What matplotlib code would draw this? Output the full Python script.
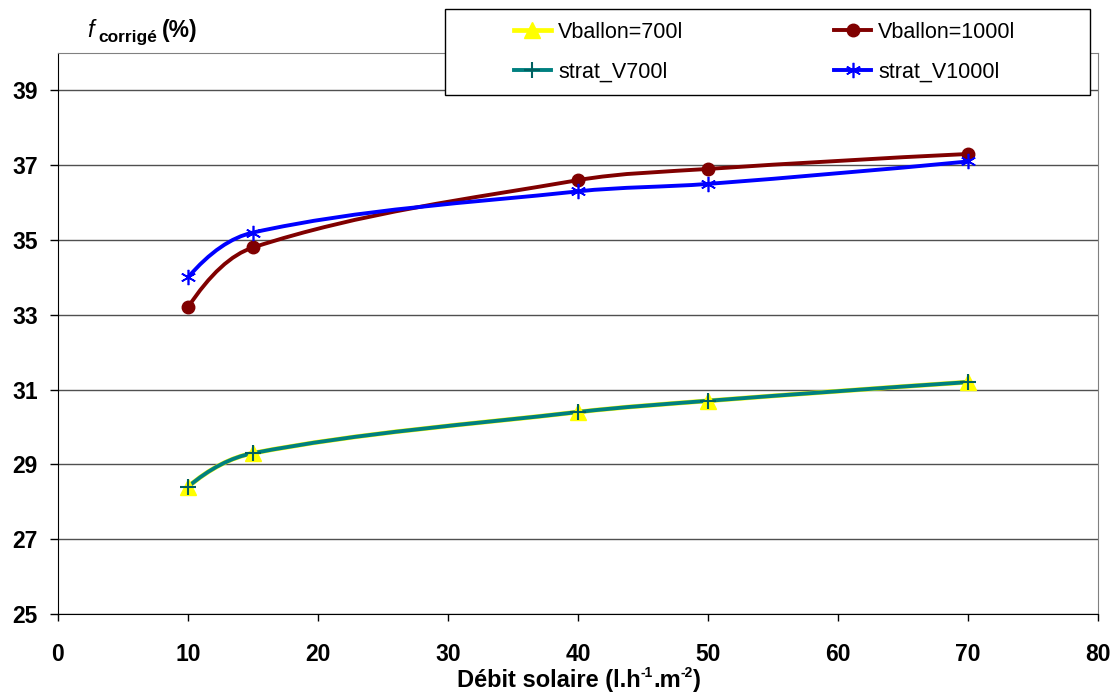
import numpy as np
import matplotlib
matplotlib.use('Agg')
import matplotlib.pyplot as plt
from matplotlib.path import Path
from matplotlib.patches import PathPatch, Rectangle
from matplotlib.lines import Line2D

plt.rcParams['font.family'] = ['Liberation Sans', 'DejaVu Sans']

# data
debit = [10, 15, 40, 50, 70]
v700 = [28.4, 29.3, 30.4, 30.7, 31.2]
v1000 = [33.2, 34.8, 36.6, 36.9, 37.3]
strat_v700 = [28.4, 29.3, 30.4, 30.7, 31.2]
strat_v1000 = [34.0, 35.2, 36.3, 36.5, 37.1]
labels = ['Vballon=700l', 'Vballon=1000l', 'strat_V700l', 'strat_V1000l']
xticks = list(range(0, 81, 10))
yticks = list(range(25, 40, 2))


# smoothed line like excel: cubic bezier through the points
def smooth_path(x, y):
    x = np.asarray(x, float)
    y = np.asarray(y, float)
    n = len(x)
    m = np.zeros(n)
    for i in range(1, n - 1):
        m[i] = (y[i + 1] - y[i - 1]) / (x[i + 1] - x[i - 1])
    m[0] = 2 * (y[1] - y[0]) / (x[1] - x[0]) - m[1]
    m[-1] = 2 * (y[-1] - y[-2]) / (x[-1] - x[-2]) - m[-2]
    verts = [(x[0], y[0])]
    codes = [Path.MOVETO]
    for i in range(n - 1):
        h = (x[i + 1] - x[i]) / 3
        verts += [(x[i] + h, y[i] + m[i] * h),
                  (x[i + 1] - h, y[i + 1] - m[i + 1] * h),
                  (x[i + 1], y[i + 1])]
        codes += [Path.CURVE4] * 3
    return Path(verts, codes)


W, H = 1114, 693
fig = plt.figure(figsize=(W / 100, H / 100), dpi=100)
ax = fig.add_axes([58 / W, 1 - 614 / H, 1040 / W, 561 / H])

series = [
    (v700, '#FFFF00', 3.4, dict(marker='^', ms=11, mfc='#FFFF00', mec='#FFFF00')),
    (v1000, '#800000', 2.8, dict(marker='o', ms=9, mfc='#800000', mec='#800000')),
    (strat_v700, '#008080', 2.8, dict(marker='+', ms=11, mec='#006060', mew=1.5)),
    (strat_v1000, '#0000FF', 2.8, dict(marker=(6, 2, 0), ms=11, mec='#0000FF', mew=1.2)),
]

handles = []
for ys, col, lw, mk in series:
    ax.add_patch(PathPatch(smooth_path(debit, ys), fill=False, edgecolor=col,
                           lw=lw, zorder=2))
for ys, col, lw, mk in series:
    ax.plot(debit, ys, ls='none', zorder=3, **mk)
    handles.append(Line2D([], [], color=col, lw=lw, **mk))

ax.set_xlim(0, 80)
ax.set_ylim(25, 40)
ax.set_xticks(xticks)
ax.set_yticks(yticks)
ax.yaxis.grid(True, color='#505050', lw=1)
ax.set_axisbelow(True)
for s in ['left', 'bottom']:
    ax.spines[s].set_color('black')
for s in ['top', 'right']:
    ax.spines[s].set_color('#808080')
ax.tick_params(axis='x', direction='out', length=5, width=1, pad=16, labelsize=16.5)
ax.tick_params(axis='y', direction='out', length=6, width=1, pad=8.5, labelsize=16.5)
for lbl in ax.get_xticklabels() + ax.get_yticklabels():
    lbl.set_fontweight('bold')

# x title, pieces chained so the superscripts keep a plain hyphen
base_y = H - 687
sup_y = H - 677
parts = [('-1', 10, sup_y), ('.m', 17, base_y), ('-2', 10, sup_y), (')', 17, base_y)]
prev = fig.text(457 / W, base_y / H, 'Débit solaire (l.h', fontsize=17,
                fontweight='bold', va='baseline', ha='left')
for txt, fs, yy in parts:
    prev = ax.annotate(txt, xy=(1, yy), xycoords=(prev, 'figure pixels'), fontsize=fs,
                       fontweight='bold', va='baseline', ha='left', annotation_clip=False)

# y title
fig.text(87 / W, 1 - 37 / H, 'f', style='italic', fontsize=17, va='baseline')
fig.text(98 / W, 1 - 42 / H, 'corrigé', fontweight='bold', fontsize=12.5, va='baseline')
fig.text(162 / W, 1 - 37 / H, '(%)', fontweight='bold', fontsize=16.5, va='baseline')

# legend box
fig.add_artist(Rectangle((445 / W, 1 - 95 / H), 645 / W, 86 / H, transform=fig.transFigure,
                         facecolor='white', edgecolor='black', lw=1, zorder=3))
order = [0, 2, 1, 3]
fig.legend([handles[i] for i in order], [labels[i] for i in order], ncol=2,
           frameon=False, loc='upper left', bbox_to_anchor=(514 / W, 1 - 22 / H),
           fontsize=15.5, handlelength=1.7, handletextpad=0.35, columnspacing=7.0,
           labelspacing=0.85, borderpad=0, borderaxespad=0, numpoints=1)

fig.savefig('out.png', dpi=100)
